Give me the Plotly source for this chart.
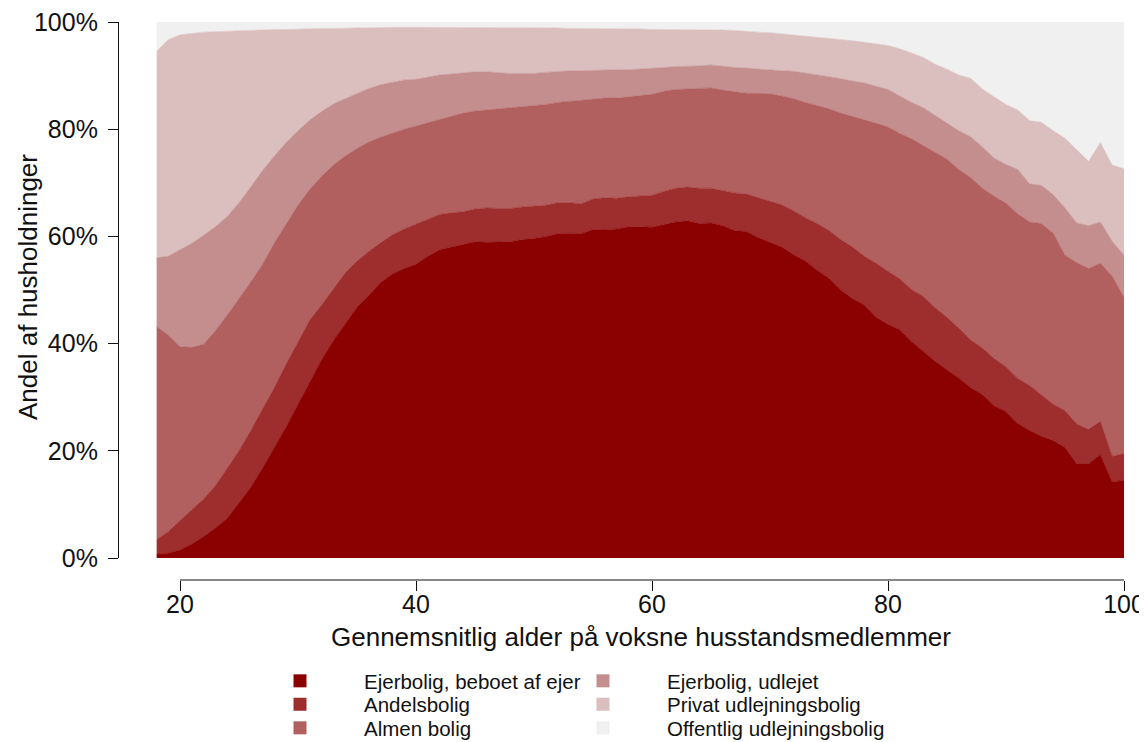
import plotly.graph_objects as go

# ---------------- data ----------------
ages = list(range(18, 101))

# cumulative upper boundary of each tenure type, in percent of households
ejer_beboet_top = [
    0.7, 0.9, 1.5, 2.6, 4.0, 5.6, 7.4, 10.2, 13.2, 16.8,          # 18-27
    20.6, 24.5, 28.7, 33.0, 37.0, 40.6, 43.8, 46.8, 49.0, 51.4,   # 28-37
    53.0, 54.0, 54.8, 56.3, 57.5, 58.0, 58.6, 59.0, 58.9, 58.9,   # 38-47
    59.0, 59.4, 59.6, 60.0, 60.5, 60.6, 60.5, 61.3, 61.2, 61.4,   # 48-57
    61.8, 61.8, 61.7, 62.2, 62.7, 62.9, 62.4, 62.5, 62.0, 61.1,   # 58-67
    60.9, 59.8, 58.9, 58.0, 56.6, 55.4, 53.7, 52.2, 50.0, 48.4,   # 68-77
    47.2, 44.9, 43.6, 42.6, 40.4, 38.5, 36.7, 35.1, 33.6, 31.8,   # 78-87
    30.5, 28.4, 27.3, 25.1, 23.8, 22.7, 21.9, 20.6, 17.6, 17.6,   # 88-97
    19.3, 14.2, 14.5,                                             # 98-100
]
andel_top = [
    3.4, 4.9, 7.0, 9.0, 11.0, 13.5, 16.8, 20.0, 23.8, 27.8,
    31.8, 36.2, 40.4, 44.4, 47.2, 50.2, 53.2, 55.4, 57.2, 58.8,
    60.3, 61.4, 62.3, 63.2, 64.1, 64.4, 64.6, 65.1, 65.3, 65.2,
    65.2, 65.5, 65.6, 65.8, 66.3, 66.3, 66.1, 67.0, 67.2, 67.1,
    67.4, 67.6, 67.7, 68.4, 69.0, 69.2, 69.0, 69.0, 68.5, 68.1,
    67.9, 67.2, 66.6, 65.9, 64.8, 63.5, 62.4, 61.1, 59.4, 58.0,
    56.3, 55.0, 53.5, 52.1, 50.1, 48.8, 46.7, 44.9, 42.9, 40.7,
    39.2, 37.2, 35.7, 33.5, 32.2, 30.5, 28.7, 27.5, 25.0, 24.0,
    25.5, 19.0, 19.5,
]
almen_top = [
    43.2, 41.6, 39.4, 39.3, 39.9, 42.4, 45.3, 48.3, 51.5, 54.8,
    58.8, 62.3, 65.8, 68.8, 71.2, 73.3, 75.0, 76.4, 77.6, 78.5,
    79.3, 80.0, 80.6, 81.2, 81.8, 82.5, 83.0, 83.4, 83.6, 83.7,
    83.9, 84.1, 84.3, 84.6, 85.0, 85.2, 85.3, 85.5, 85.8, 85.8,
    86.0, 86.2, 86.5, 87.1, 87.4, 87.5, 87.6, 87.7, 87.3, 87.0,
    86.7, 86.7, 86.6, 86.2, 85.7, 85.0, 84.4, 83.8, 83.0, 82.4,
    81.7, 81.1, 80.4, 79.2, 78.2, 76.9, 75.7, 74.4, 72.5, 71.0,
    69.0, 67.5, 66.2, 64.2, 62.7, 62.4, 60.6, 56.5, 55.1, 54.0,
    55.0, 52.6, 48.6,
]
ejer_udlejet_top = [
    56.0, 56.3, 57.5, 58.7, 60.2, 61.8, 63.7, 66.3, 69.2, 72.3,
    75.0, 77.5, 79.7, 81.7, 83.3, 84.7, 85.7, 86.7, 87.6, 88.3,
    88.8, 89.2, 89.3, 89.7, 90.1, 90.3, 90.5, 90.7, 90.7, 90.5,
    90.4, 90.4, 90.4, 90.6, 90.8, 90.9, 90.9, 91.0, 91.1, 91.1,
    91.1, 91.2, 91.3, 91.5, 91.7, 91.7, 91.8, 92.0, 91.7, 91.5,
    91.4, 91.2, 91.1, 90.9, 90.8, 90.5, 90.1, 89.8, 89.4, 89.0,
    88.6, 88.0, 87.4, 86.2, 85.0, 84.0, 82.6, 81.2, 79.7, 78.6,
    76.7, 74.6, 73.4, 72.5, 69.8, 69.5, 67.8, 65.3, 62.5, 62.0,
    62.7, 59.1, 56.5,
]
privat_top = [
    94.5, 96.7, 97.6, 97.9, 98.1, 98.2, 98.3, 98.4, 98.5, 98.5,
    98.6, 98.6, 98.7, 98.7, 98.8, 98.8, 98.9, 98.9, 98.9, 99.0,
    99.0, 99.0, 99.0, 99.0, 99.0, 99.0, 99.0, 98.9, 98.9, 98.9,
    98.9, 98.9, 98.9, 98.9, 98.9, 98.8, 98.8, 98.8, 98.8, 98.8,
    98.8, 98.7, 98.6, 98.6, 98.6, 98.6, 98.6, 98.6, 98.5, 98.4,
    98.2, 98.1, 98.0, 97.8, 97.6, 97.4, 97.2, 97.0, 96.8, 96.5,
    96.2, 95.9, 95.6, 95.0, 94.2, 93.4, 92.1, 91.2, 90.1, 89.5,
    87.5, 86.0, 84.6, 83.6, 81.6, 81.3, 79.7, 78.3, 76.2, 74.0,
    77.5, 73.3, 72.6,
]
total_top = [100.0] * len(ages)   # Offentlig udlejningsbolig fills up to 100 %

categories = [
    "Ejerbolig, beboet af ejer",
    "Andelsbolig",
    "Almen bolig",
    "Ejerbolig, udlejet",
    "Privat udlejningsbolig",
    "Offentlig udlejningsbolig",
]
boundaries = [ejer_beboet_top, andel_top, almen_top,
              ejer_udlejet_top, privat_top, total_top]

y_ticks = [0, 20, 40, 60, 80, 100]
y_ticktext = ["0%", "20%", "40%", "60%", "80%", "100%"]
x_ticks = [20, 40, 60, 80, 100]

for b in boundaries:
    assert len(b) == len(ages), len(b)

# ---------------- style / geometry ----------------
colors = ["#8B0000", "#9E2D2D", "#B25F5F", "#C48E8E", "#DBBFBF", "#F0F0F0"]
FONT = "Liberation Sans, Arial, Helvetica, sans-serif"
OFF = 8                       # page body margin of the html page
W, H = 1147 - OFF, 742 - OFF  # figure size so that it ends at the window edge
ML, MR, MT, MB = 92, 23, 14, 142
PW, PH = W - ML - MR, H - MT - MB


def px_x(px):
    """window pixel -> paper x"""
    return (px - OFF - ML) / PW


def px_y(py):
    """window pixel -> paper y"""
    return (H - MB - (py - OFF)) / PH


fig = go.Figure()

for i, (name, top, col) in enumerate(zip(categories, boundaries, colors)):
    fig.add_trace(go.Scatter(
        x=ages, y=top, mode="lines",
        line=dict(width=0.6, color=col),
        fill="tozeroy" if i == 0 else "tonexty",
        fillcolor=col, name=name, showlegend=False, hoverinfo="skip",
    ))

# legend: two columns x three rows, one small legend per entry
legend_ids = ["legend", "legend2", "legend3", "legend4", "legend5", "legend6"]
col_left = [228 + OFF, 531 + OFF]       # window px of legend box left
row_center = [681, 704.5, 728]          # window px of row centres
legends = {}
for i, (name, col) in enumerate(zip(categories, colors)):
    lid = legend_ids[i]
    fig.add_trace(go.Scatter(
        x=[None], y=[None], mode="markers",
        marker=dict(symbol="square", size=13, color=col),
        name=name, legend=lid,
    ))
    cx = col_left[i // 3]
    cy = row_center[i % 3]
    legends[lid] = dict(
        orientation="h", xref="container", yref="container",
        x=(cx - OFF) / W, y=(H - (cy - OFF)) / H,
        xanchor="left", yanchor="middle",
        font=dict(family=FONT, size=20.5, color="#111111"),
        itemwidth=118, bgcolor="rgba(0,0,0,0)", borderwidth=0,
        itemclick=False, itemdoubleclick=False,
    )

fig.add_shape(type="line", xref="x", yref="paper",
              x0=20, x1=100, y0=px_y(580), y1=px_y(580),
              line=dict(color="#111111", width=1.2))

fig.update_layout(
    width=W, height=H, autosize=False,
    margin=dict(l=ML, r=MR, t=MT, b=MB, pad=0, autoexpand=False),
    paper_bgcolor="white", plot_bgcolor="white",
    font=dict(family=FONT, color="#111111"),
    xaxis=dict(
        domain=[px_x(156.4), px_x(1124)], range=[18, 100],
        anchor="free", position=px_y(580), automargin=False,
        showline=False, showgrid=False, zeroline=False,
        ticks="outside", ticklen=10, tickwidth=1.2, tickcolor="#111111",
        tickvals=x_ticks, ticklabelstandoff=-8, ticklabeloverflow="allow",
        tickfont=dict(family=FONT, size=25, color="#111111"),
    ),
    yaxis=dict(
        domain=[px_y(558), px_y(22)], range=[0, 100],
        anchor="free", position=px_x(118), automargin=False,
        showline=True, linecolor="#111111", linewidth=1.2,
        showgrid=False, zeroline=False,
        ticks="outside", ticklen=10, tickwidth=1.2, tickcolor="#111111",
        tickvals=y_ticks, ticktext=y_ticktext, ticklabelstandoff=5,
        ticklabeloverflow="allow",
        tickfont=dict(family=FONT, size=25, color="#111111"),
    ),
    annotations=[
        dict(text="Andel af husholdninger", textangle=-90,
             xref="paper", yref="paper", x=px_x(28), y=px_y(287),
             xanchor="center", yanchor="middle", showarrow=False,
             font=dict(family=FONT, size=26, color="#111111")),
        dict(text="Gennemsnitlig alder på voksne husstandsmedlemmer",
             xref="paper", yref="paper", x=px_x(641), y=px_y(637),
             xanchor="center", yanchor="middle", showarrow=False,
             font=dict(family=FONT, size=26, color="#111111")),
    ],
    **legends,
)

fig.write_html("out.html")
